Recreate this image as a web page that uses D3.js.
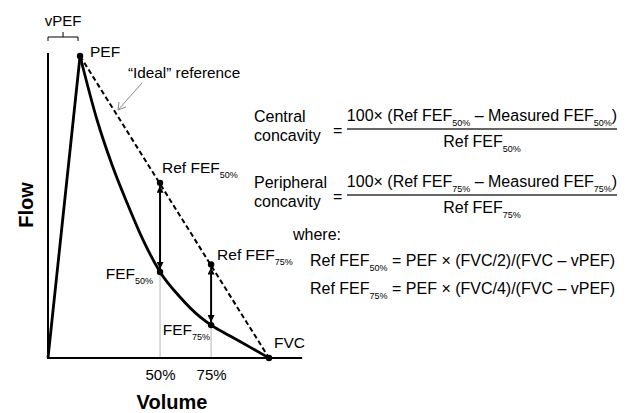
<!DOCTYPE html>
<html><head><meta charset="utf-8">
<script src="https://cdn.jsdelivr.net/npm/d3@7"></script>
<style>
html,body{margin:0;padding:0;background:#fff;}
text{font-family:"Liberation Sans",Arial,Helvetica,sans-serif;fill:#000;}
</style></head>
<body>
<svg id="chart" width="629" height="413"></svg>
<script>
// ---- data (volume in % of FVC, flow in % of PEF) ----
const curveVolume = [14.5, 22.2, 29.0, 35.8, 43.0, 50.7, 59.7, 68.8, 73.8, 82.4, 91.4, 100];
const curveFlow   = [100, 78.8, 63.9, 51.3, 39.1, 28.5, 20.2, 13.6, 10.9, 7.3, 3.6, 0];
const risingVolume = [0, 14.5];
const risingFlow   = [0, 100];
const idealVolume  = [14.5, 100];
const idealFlow    = [100, 0];
const fefVolume    = [50.7, 73.8];
const fefFlow      = [28.5, 10.9];
const refFefFlow   = [58, 31];
const fefSubs      = ["50%", "75%"];
const tickLabels   = ["50%", "75%"];
const vPEF = 14.5;

const svg = d3.select("#chart");
const x = d3.scaleLinear().domain([0, 100]).range([48, 269]);
const y = d3.scaleLinear().domain([0, 100]).range([358, 56]);

// defs: arrow markers
const defs = svg.append("defs");
defs.append("marker").attr("id","ah").attr("viewBox","0 0 10 10")
  .attr("refX",10).attr("refY",5).attr("markerWidth",8).attr("markerHeight",7)
  .attr("markerUnits","userSpaceOnUse").attr("orient","auto-start-reverse")
  .append("path").attr("d","M0,0 L10,5 L0,10 Z").attr("fill","#000");

// gray guide lines
fefVolume.forEach((v,i)=>{
  svg.append("line").attr("x1",x(v)).attr("x2",x(v)).attr("y1",y(0)).attr("y2",y(fefFlow[i]))
    .attr("stroke","#b5b5b5").attr("stroke-width",1);
});

// axes
svg.append("line").attr("x1",x(0)).attr("x2",x(0)).attr("y1",y(0)).attr("y2",y(101)).attr("stroke","#000").attr("stroke-width",2);
svg.append("line").attr("x1",x(0)-1).attr("x2",x(115)).attr("y1",y(0)).attr("y2",y(0)).attr("stroke","#000").attr("stroke-width",2);

const xAxis = d3.axisBottom(x).tickValues(fefVolume).tickFormat((d,i)=>tickLabels[i]).tickSize(0).tickPadding(11);
const gx = svg.append("g").attr("transform",`translate(0,${y(0)})`).call(xAxis);
gx.select(".domain").remove();
gx.selectAll("text").attr("font-size",15).attr("font-family",'"Liberation Sans",Arial,sans-serif').attr("fill","#000");

// ideal reference (dashed)
const line = d3.line().x(d=>x(d[0])).y(d=>y(d[1]));
svg.append("path").attr("d", line(d3.zip(idealVolume, idealFlow)))
  .attr("fill","none").attr("stroke","#000").attr("stroke-width",2).attr("stroke-dasharray","5,3");

// rising limb
svg.append("path").attr("d", line(d3.zip(risingVolume, risingFlow)))
  .attr("fill","none").attr("stroke","#000").attr("stroke-width",2.8);

// descending curve
const curveLine = d3.line().x(d=>x(d[0])).y(d=>y(d[1])).curve(d3.curveMonotoneX);
svg.append("path").attr("d", curveLine(d3.zip(curveVolume, curveFlow)))
  .attr("fill","none").attr("stroke","#000").attr("stroke-width",2.8).attr("stroke-linejoin","round");

// double-headed arrows
fefVolume.forEach((v,i)=>{
  svg.append("line").attr("x1",x(v)).attr("x2",x(v))
    .attr("y1",y(refFefFlow[i])+3).attr("y2",y(fefFlow[i])-3)
    .attr("stroke","#000").attr("stroke-width",2)
    .attr("marker-start","url(#ah)").attr("marker-end","url(#ah)");
});

// points
const pts = [[vPEF,100],[100,0]]
  .concat(fefVolume.map((v,i)=>[v,fefFlow[i]]))
  .concat(fefVolume.map((v,i)=>[v,refFefFlow[i]]));
svg.selectAll("circle.pt").data(pts).enter().append("circle")
  .attr("cx",d=>x(d[0])).attr("cy",d=>y(d[1])).attr("r",3.2).attr("fill","#000");

// text helper with subscripts
function txt(px, py, parts, size, anchor, subSize){
  const t = svg.append("text").attr("x",px).attr("y",py).attr("font-size",size)
    .attr("text-anchor",anchor||"start");
  let shifted = false;
  parts.forEach(p=>{
    if (typeof p === "string") {
      const s = t.append("tspan").text(p);
      if (shifted) { s.attr("dy",-5); shifted=false; }
    } else {
      t.append("tspan").text(p.sub).attr("font-size",subSize||9).attr("dy",5);
      shifted = true;
    }
  });
  return t;
}

// vPEF bracket
const bx0 = x(0), bx1 = x(vPEF)-2, by = 37;
svg.append("path").attr("d",`M${bx0},${by+4}V${by}H${bx1}V${by+4}M${(bx0+bx1)/2},${by}V${by-5}`)
  .attr("fill","none").attr("stroke","#000").attr("stroke-width",1);
txt((bx0+bx1)/2, 26, ["vPEF"], 15, "middle");

// labels on chart
txt(x(vPEF)+10, y(100)+1, ["PEF"], 15.5);
txt(x(100)+5, y(0)-10, ["FVC"], 15.5);
txt(128, 78, ["\u201CIdeal\u201D reference"], 15.3);
// annotation arrow
svg.append("line").attr("x1",142).attr("y1",83).attr("x2",118).attr("y2",110)
  .attr("stroke","#888").attr("stroke-width",1);
svg.append("path").attr("d","M119,102 L118,110 L126,107").attr("fill","none").attr("stroke","#888").attr("stroke-width",1);

txt(x(fefVolume[0])+2, y(refFefFlow[0])-10, ["Ref FEF",{sub:fefSubs[0]}], 15.5);
txt(x(fefVolume[1])+6, y(refFefFlow[1])-4, ["Ref FEF",{sub:fefSubs[1]}], 15.5);
txt(x(fefVolume[0])-7, y(fefFlow[0])+7, ["FEF",{sub:fefSubs[0]}], 15.5, "end");
txt(x(fefVolume[1])-1, y(fefFlow[1])+10, ["FEF",{sub:fefSubs[1]}], 15.5, "end");

// axis titles
svg.append("text").attr("transform","translate(33,205) rotate(-90)").attr("text-anchor","middle")
  .attr("font-size",20).attr("font-weight","bold").text("Flow");
svg.append("text").attr("x",172).attr("y",409).attr("text-anchor","middle")
  .attr("font-size",20).attr("font-weight","bold").text("Volume");

// formulas
function formula(barY, l1, l2, sub){
  txt(254, barY-7, [l1], 16);
  txt(254, barY+12, [l2], 16);
  txt(333, barY+7, ["="], 16);
  svg.append("line").attr("x1",347).attr("x2",617).attr("y1",barY).attr("y2",barY)
    .attr("stroke","#333").attr("stroke-width",1.5);
  txt(482, barY-8, ["100\u00D7 (Ref FEF",{sub:sub}," \u2013 Measured FEF",{sub:sub},")"], 16, "middle");
  txt(482, barY+18, ["Ref FEF",{sub:sub}], 16, "middle");
}
formula(129, "Central", "concavity", fefSubs[0]);
formula(195, "Peripheral", "concavity", fefSubs[1]);

txt(293, 240, ["where:"], 16);
txt(310, 266, ["Ref FEF",{sub:fefSubs[0]}," = PEF \u00D7 (FVC/2)/(FVC \u2013 vPEF)"], 16);
txt(310, 294, ["Ref FEF",{sub:fefSubs[1]}," = PEF \u00D7 (FVC/4)/(FVC \u2013 vPEF)"], 16);
</script>
</body></html>
